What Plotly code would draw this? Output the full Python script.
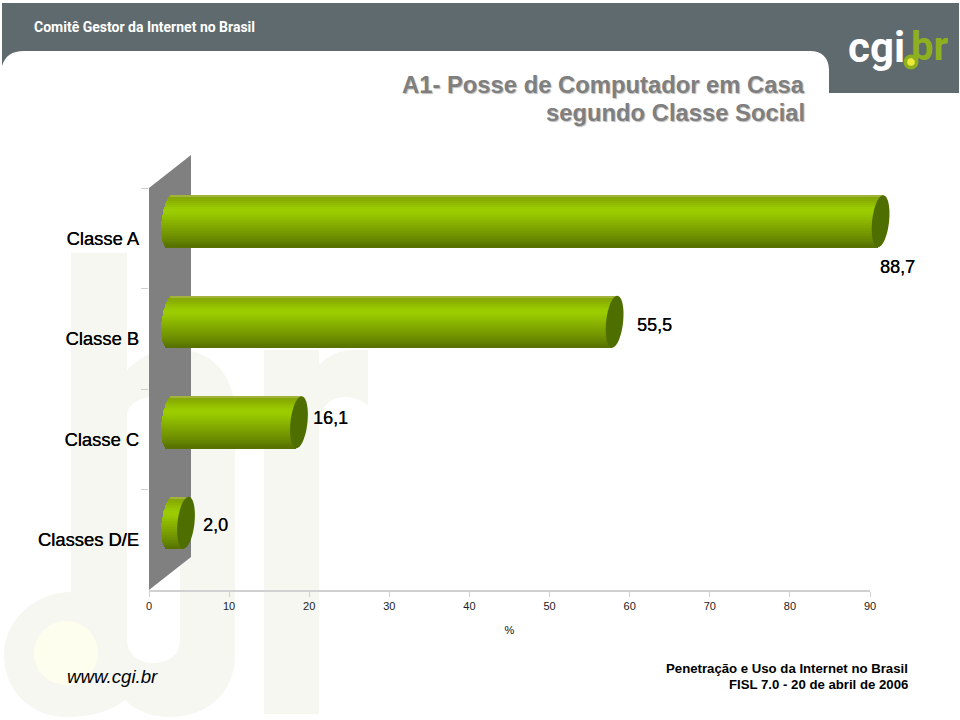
import math
import plotly.graph_objects as go

# ---- data ----
categories = ["Classe A", "Classe B", "Classe C", "Classes D/E"]
values = [88.7, 55.5, 16.1, 2.0]
x_ticks = [0, 10, 20, 30, 40, 50, 60, 70, 80, 90]
x_title = "%"
title_lines = ["A1- Posse de Computador em Casa", "segundo Classe Social"]
footer_lines = ["Penetração e Uso da Internet no Brasil", "FISL 7.0 - 20 de abril de 2006"]

# ---- layout constants (pixels in the 960x720 page) ----
W, H = 960, 720
PX0, PX1 = 149, 870
PY0, PY1 = 188, 590
DX, DY = 21, 17
PX_PER_UNIT = (PX1 - PX0) / 90
PAD = 12  # spare room round the bars' axes so that the tube ends are not clipped
BAR_PX = 52
CAP_A = 8.5
SHEAR = 0.1
band_colors = ["#A3B23A", "#86A808", "#89AE00", "#8DB400", "#92BC00", "#96C300", "#99C900", "#9ACC00", "#9ACC00",
               "#97C800", "#94C400", "#90BE00", "#8CB800", "#89B300", "#85AE00", "#82A900", "#7EA400",
               "#7A9F00", "#769A00", "#729500", "#6E9000", "#6A8B00", "#668500", "#617F00", "#5C7800", "#587200"]
label_shift = [(17, -46), (40, -3), (32, 4), (29, -2)]
CAP_COLOR = "#4F6E00"
WM = "#F7F7F2"
HEADER = "#5F6A6F"
FONT = "Liberation Sans"
CONDENSED = "Roboto, DejaVu Sans Condensed"
TEXT_SHADOW = "0.35px 0 0 #111"


def fx(p):
    return p / W


def fy(p):
    return 1 - p / H


def page_path(cmds):
    out = []
    for c in cmds:
        op, pts = c[0], c[1:]
        out.append(op + " ".join(f"{fx(pts[i]):.5f},{fy(pts[i + 1]):.5f}" for i in range(0, len(pts), 2)))
    return " ".join(out) + " Z"


def page_shape(cmds, color):
    return dict(type="path", xref="paper", yref="paper", path=page_path(cmds), fillcolor=color,
                line=dict(width=0), layer="below")


def page_circle(cx, cy, r, color, layer="below"):
    return dict(type="circle", xref="paper", yref="paper", x0=fx(cx - r), x1=fx(cx + r), y0=fy(cy + r), y1=fy(cy - r),
                fillcolor=color, line=dict(width=0), layer=layer)


shapes = [
    # watermark letters
    page_shape([("M", 71, 253), ("L", 127, 253), ("L", 127, 370), ("C", 145, 352, 160, 349, 175, 349),
                ("C", 212, 349, 235, 375, 235, 415), ("L", 235, 655), ("C", 235, 695, 205, 717, 170, 717),
                ("C", 150, 717, 135, 710, 125, 700), ("C", 110, 712, 90, 717, 66, 717),
                ("C", 30, 717, 4, 690, 4, 655), ("C", 4, 620, 35, 592, 71, 592)], WM),
    page_shape([("M", 127, 415), ("C", 127, 405, 140, 397, 153, 397), ("C", 168, 397, 180, 405, 180, 420),
                ("L", 180, 640), ("C", 180, 655, 168, 663, 153, 663), ("C", 140, 663, 127, 655, 127, 640)], "#FFFFFF"),
    page_circle(66, 653, 32, "#FEFEEE"),
    page_shape([("M", 264, 350), ("L", 319, 350), ("L", 319, 365), ("C", 330, 354, 340, 350, 355, 350),
                ("L", 368, 350), ("L", 368, 405), ("C", 360, 399, 352, 397, 345, 397),
                ("C", 330, 397, 319, 408, 319, 425), ("L", 319, 714), ("L", 264, 714)], WM),
    # 3-D wall behind the bars
    page_shape([("M", PX0, PY0), ("L", PX0 + 2 * DX, PY0 - 2 * DY + 1), ("L", PX0 + 2 * DX, PY1 - 2 * DY + 1),
                ("L", PX0, PY1)], "#808080"),
    # header band
    page_shape([("M", 2, 3), ("L", 959, 3), ("L", 959, 93), ("L", 829, 93), ("L", 829, 70),
                ("C", 829, 58, 822, 51, 810, 51), ("L", 24, 51), ("C", 12, 51, 5, 56, 2, 66)], HEADER),
    page_circle(911, 62, 7.5, "#8DB01F", "above"),
    page_circle(911, 62, 3.8, "#EFEA3A", "above"),
]

fig = go.Figure()

# invisible trace that gives the visible axes their categories
fig.add_trace(go.Bar(y=categories, x=values, orientation="h", opacity=0, hoverinfo="skip", showlegend=False))

# a cylinder is a stack of thin strips; each strip ends follow the round end of the tube
n = len(band_colors)
total = BAR_PX / ((PY1 - PY0) / len(categories))
strip = total / n
for i, col in enumerate(band_colors):
    offset = -total / 2 + i * strip
    rel = (i + 0.5) / n * 2 - 1  # -1 top, +1 bottom
    left_px = -CAP_A * math.sqrt(max(0, 1 - rel * rel)) - SHEAR * rel * BAR_PX / 2
    right_px = -SHEAR * rel * BAR_PX / 2
    base = left_px / PX_PER_UNIT
    lengths = [v + right_px / PX_PER_UNIT - base for v in values]
    fig.add_trace(go.Bar(y=categories, x=lengths, base=[base] * len(values), orientation="h",
                         xaxis="x2", yaxis="y2", width=strip * 1.15, offset=offset,
                         marker=dict(color=col, line=dict(width=0)), hoverinfo="skip", showlegend=False))

# end caps of the cylinders, anchored on the values
cap_pts = []
for k in range(48):
    t = 2 * math.pi * k / 48
    yy = BAR_PX / 2 * math.sin(t)
    xx = CAP_A * math.cos(t) + SHEAR * yy
    cap_pts.append(f"{xx:.2f},{yy:.2f}")
cap_path = "M" + " L".join(cap_pts) + " Z"
for i, v in enumerate(values):
    shapes.append(dict(type="path", xref="x2", yref="y2", xsizemode="pixel", ysizemode="pixel", xanchor=v, yanchor=i,
                       path=cap_path, fillcolor=CAP_COLOR, line=dict(width=0), layer="above"))


def note(text, x, y, size, color="#000000", anchor="center", bold=False, italic=False, family=FONT, shadow="none"):
    label = f"<b>{text}</b>" if bold else text
    label = f"<i>{label}</i>" if italic else label
    return dict(text=label, xref="paper", yref="paper", x=fx(x), y=fy(y), xanchor=anchor, yanchor="middle",
                showarrow=False, font=dict(family=family, size=size, color=color, shadow=shadow))


annotations = [
    note(title_lines[0], 807, 84, 23.8, "#7F7F7F", "right", bold=True, shadow="1px 1px 1px #BBBBBB"),
    note(title_lines[1], 807, 112, 23.8, "#7F7F7F", "right", bold=True, shadow="1px 1px 1px #BBBBBB"),
    note(footer_lines[0], 910, 668, 13.2, "#000000", "right", bold=True),
    note(footer_lines[1], 910, 684, 13.2, "#000000", "right", bold=True),
    note("www.cgi.br", 65, 676, 18.7, "#000000", "left", italic=True),
    note("Comitê Gestor da Internet no Brasil", 32, 27, 14, "#FFFFFF", "left", bold=True, family=CONDENSED),
    note("cgi", 846, 48, 42, "#FFFFFF", "left", bold=True, family=CONDENSED),
    note("br", 909, 46, 40, "#8DB01F", "left", bold=True, family=CONDENSED),
]
for cat, v, (sx, sy) in zip(categories, values, label_shift):
    annotations.append(dict(text=f"{v:.1f}".replace(".", ","), xref="x2", yref="y2", x=v, y=cat, xshift=sx, yshift=sy,
                            showarrow=False, font=dict(family=FONT, size=18, color="#000000", shadow=TEXT_SHADOW)))

fig.update_layout(
    template="none",
    width=W, height=H, autosize=False, margin=dict(l=0, r=0, t=0, b=0, pad=0),
    paper_bgcolor="#FFFFFF", plot_bgcolor="rgba(0,0,0,0)",
    barmode="overlay", bargap=0, showlegend=False,
    shapes=shapes, annotations=annotations,
    xaxis=dict(domain=[fx(PX0), fx(PX1)], range=[0, 90], tickvals=x_ticks, ticks="outside", ticklen=5, tickcolor="#D0D0D0",
               showline=True, linecolor="#D0D0D0", linewidth=2, showgrid=False, zeroline=False, automargin=False,
               tickfont=dict(family=FONT, size=11, color="#222222"), anchor="y",
               title=dict(text=x_title, standoff=15, font=dict(family=FONT, size=11, color="#111111"))),
    yaxis=dict(domain=[fy(PY1), fy(PY0)], type="category", categoryorder="array", categoryarray=categories,
               range=[len(categories) - 0.5, -0.5], tickson="boundaries", ticks="outside", ticklen=7, automargin=False,
               ticklabelstandoff=9, tickcolor="#D0D0D0", showgrid=False, zeroline=False, showline=False, anchor="x",
               tickfont=dict(family=FONT, size=18.4, color="#000000", shadow=TEXT_SHADOW)),
    xaxis2=dict(domain=[fx(PX0 + DX - PAD), fx(PX1 + DX + PAD)], range=[-PAD / PX_PER_UNIT, 90 + PAD / PX_PER_UNIT],
                visible=False, anchor="y2", automargin=False),
    yaxis2=dict(domain=[fy(PY1 - DY), fy(PY0 - DY)], type="category", categoryorder="array", categoryarray=categories,
                range=[len(categories) - 0.5, -0.5], visible=False, anchor="x2", automargin=False),
)

fig.write_html("out.html", post_script="document.body.style.margin='0';", config={"displayModeBar": False})
